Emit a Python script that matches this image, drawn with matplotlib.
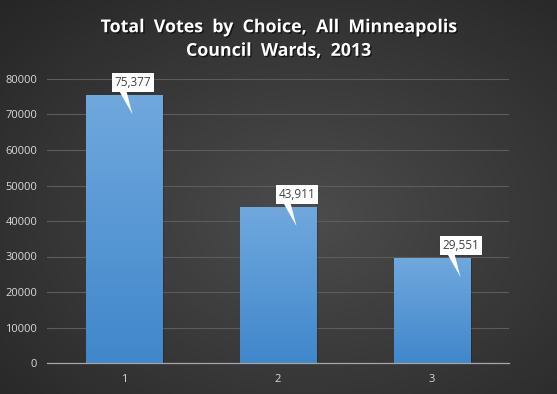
import numpy as np
import matplotlib
matplotlib.use("Agg")
import matplotlib.pyplot as plt
from matplotlib.patches import Rectangle, Polygon
from matplotlib.colors import LinearSegmentedColormap
from matplotlib.transforms import ScaledTranslation
import matplotlib.patheffects as pe

# ---- data ----
categories = ["1", "2", "3"]
values = [75377, 43911, 29551]
value_labels = ["75,377", "43,911", "29,551"]
yticks = [0, 10000, 20000, 30000, 40000, 50000, 60000, 70000, 80000]
title = "Total  Votes  by  Choice,  All  Minneapolis\nCouncil  Wards,  2013"

# callout horizontal offsets (px) from bar centre -- style only
callout_dx = [8.5, 18.5, 28.5]

W, H = 557, 394
fig = plt.figure(figsize=(W / 100, H / 100), dpi=100)

# background radial gradient
bg = fig.add_axes([0, 0, 1, 1], zorder=0)
yy, xx = np.mgrid[0:H, 0:W]
cx, cy = W * 0.55, H * 0.55
r = np.sqrt(((xx - cx) / (W * 0.75)) ** 2 + ((yy - cy) / (H * 0.75)) ** 2)
r = np.clip(r, 0, 1)
c_in = np.array([0x4c, 0x4c, 0x4c]) / 255
c_out = np.array([0x27, 0x27, 0x27]) / 255
img = c_in[None, None, :] * (1 - r[..., None]) + c_out[None, None, :] * r[..., None]
bg.imshow(img, aspect="auto", extent=[0, 1, 0, 1], origin="upper")
bg.set_axis_off()

ax = fig.add_axes([47 / W, 1 - 363 / H, (509 - 47) / W, (363 - 79) / H], zorder=1)
ax.set_facecolor("none")
x = np.arange(len(categories))

bars = ax.bar(x, values, width=0.5, color="#5a9ad6", zorder=3)

# gradient fill for bars
bar_cmap = LinearSegmentedColormap.from_list("b", ["#4087cb", "#70a8de"])
grad = np.linspace(0, 1, 256).reshape(-1, 1)
for b in bars:
    bx, by = b.get_x(), b.get_y()
    bw, bh = b.get_width(), b.get_height()
    sh = Rectangle((bx, by), bw, bh, facecolor="black", alpha=0.18, zorder=2.5, linewidth=0)
    sh.set_transform(ax.transData + ScaledTranslation(1.5 / 100, -1 / 100, fig.dpi_scale_trans))
    ax.add_patch(sh)
    im = ax.imshow(grad, cmap=bar_cmap, aspect="auto", origin="lower",
                   extent=[bx, bx + bw, by, by + bh], zorder=3.5)
    im.set_clip_path(b)
ax.set_xlim(-0.5, len(categories) - 0.5)
ax.set_ylim(0, 80000)

ax.set_yticks(yticks)
ax.set_yticklabels([str(t) for t in yticks])
ax.set_xticks(x)
ax.set_xticklabels(categories)
ax.grid(axis="y", color="#5c5c5c", linewidth=0.8, zorder=1)
ax.set_axisbelow(True)
for s in ["top", "right", "left"]:
    ax.spines[s].set_visible(False)
ax.spines["bottom"].set_color("#a6a6a6")
ax.spines["bottom"].set_linewidth(0.9)
ax.spines["bottom"].set_zorder(4)
ax.tick_params(axis="both", length=0, colors="#d9d9d9", labelsize=8)
ax.tick_params(axis="y", pad=7)
ax.tick_params(axis="x", pad=8)
for lab in ax.get_xticklabels() + ax.get_yticklabels():
    lab.set_fontfamily("Open Sans")

# callouts
fig.canvas.draw()
for i, (v, lab) in enumerate(zip(values, value_labels)):
    px, py = ax.transData.transform((x[i], v))  # display coords (origin bottom-left)
    tx = px + callout_dx[i]
    tip = (tx, py - 19)
    box_bottom = py + 3.5
    box_top = box_bottom + 19
    bl, br = tx - 20.5, tx + 21.5
    poly = Polygon([(tx - 13, box_bottom + 0.5), (tx - 6, box_bottom + 0.5), tip],
                   closed=True, facecolor="white", edgecolor="none",
                   transform=None, zorder=6)
    fig.add_artist(poly)
    box = Rectangle((bl, box_bottom), br - bl, box_top - box_bottom,
                    facecolor="white", edgecolor="none", transform=None, zorder=6)
    fig.add_artist(box)
    fig.text((bl + br) / 2 / W, (box_bottom + box_top) / 2 / H, lab,
             ha="center", va="center", color="#404040", fontsize=8.5,
             family="Open Sans", zorder=7)

fig.text(0.5, 1 - 39 / H, title, ha="center", va="center", color="white",
         fontsize=12.8, fontweight="bold", family="Open Sans", linespacing=1.4,
         path_effects=[pe.withSimplePatchShadow(offset=(1, -1), shadow_rgbFace="black", alpha=0.6)])

fig.savefig("out.png", dpi=100)
